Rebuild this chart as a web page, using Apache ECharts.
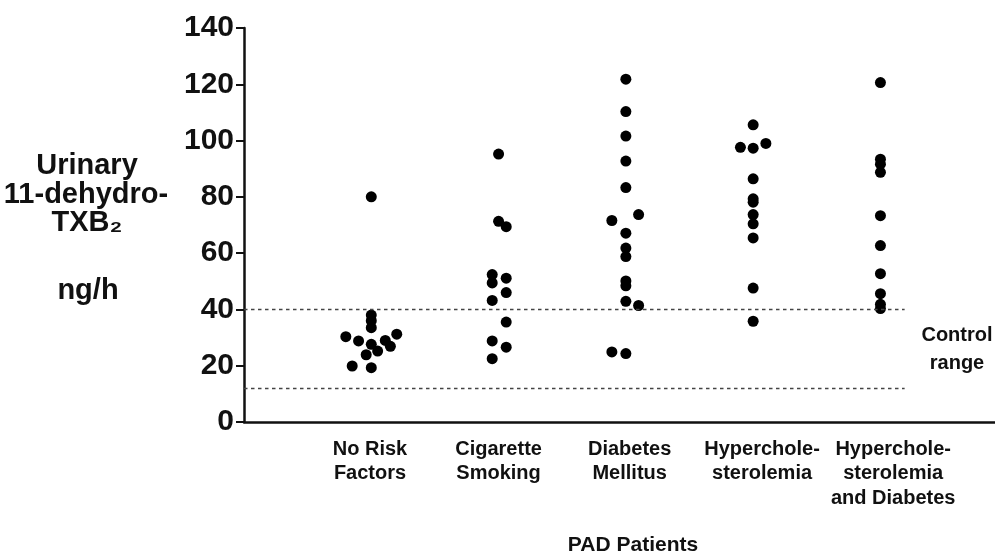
<!DOCTYPE html>
<html>
<head>
<meta charset="utf-8">
<script src="https://cdn.jsdelivr.net/npm/echarts@6/dist/echarts.min.js"></script>
<style>
  html, body { margin: 0; padding: 0; background: #fff; }
  #chart { width: 995px; height: 555px; }
</style>
</head>
<body>
<div id="chart"></div>
<script>
// ---- Data ----
const categories = [
  'No Risk\nFactors',
  'Cigarette\nSmoking',
  'Diabetes\nMellitus',
  'Hyperchole-\nsterolemia',
  'Hyperchole-\nsterolemia\nand Diabetes'
];
// label anchor along the x axis (group units)
const categoryLabelPos = [0.99, 2.0, 3.03, 4.07, 5.1];

// values (ng/h) and horizontal jitter (in group units) for each group
const noRiskValues    = [80, 38, 36, 33.5, 30.3, 28.8, 27.6, 29, 31.2, 26.9, 25.2, 23.9, 19.9, 19.3];
const noRiskJitter    = [0, 0, 0, 0, -0.2, -0.1, 0, 0.11, 0.2, 0.15, 0.05, -0.04, -0.15, 0];

const smokingValues   = [95.2, 71.3, 69.4, 52.4, 51.1, 49.4, 46, 43.2, 35.5, 28.8, 26.6, 22.5];
const smokingJitter   = [0, 0, 0.06, -0.05, 0.06, -0.05, 0.06, -0.05, 0.06, -0.05, 0.06, -0.05];

const diabetesValues  = [121.8, 110.3, 101.6, 92.7, 83.3, 71.6, 73.7, 67.1, 61.8, 58.8, 50.1, 48.4, 42.9, 41.4, 24.9, 24.3];
const diabetesJitter  = [0, 0, 0, 0, 0, -0.11, 0.1, 0, 0, 0, 0, 0, 0, 0.1, -0.11, 0];

const hyperValues     = [105.6, 97.6, 97.3, 99, 86.4, 79.3, 78.1, 73.7, 70.4, 65.4, 47.6, 35.8];
const hyperJitter     = [0, -0.1, 0, 0.1, 0, 0, 0, 0, 0, 0, 0, 0];

const hyperDiabValues = [120.6, 93.4, 91.6, 88.7, 73.3, 62.7, 52.7, 45.6, 41.8, 40.3];
const hyperDiabJitter = [0, 0, 0, 0, 0, 0, 0, 0, 0, 0];

const controlUpper = 40;
const controlLower = 12;
const yTicks = [0, 20, 40, 60, 80, 100, 120, 140];

const groups = [
  [noRiskValues, noRiskJitter],
  [smokingValues, smokingJitter],
  [diabetesValues, diabetesJitter],
  [hyperValues, hyperJitter],
  [hyperDiabValues, hyperDiabJitter]
];

const points = [];
groups.forEach(function (g, gi) {
  g[0].forEach(function (v, i) { points.push([gi + 1 + g[1][i], v]); });
});

const FONT = "'Liberation Sans', Arial, Helvetica, sans-serif";
const chart = echarts.init(document.getElementById('chart'), null, { renderer: 'canvas' });

const dash = { color: '#444', width: 1.4, type: [3.5, 3.5], opacity: 1 };

function t(x, y, text, size) {
  return { type: 'text', x: x, y: y, style: { text: text, font: 'bold ' + size + 'px ' + FONT, fill: '#111', align: 'center', verticalAlign: 'middle' } };
}

chart.setOption({
  animation: false,
  backgroundColor: '#ffffff',
  grid: { left: 244, right: 0, top: 28, bottom: 133, containLabel: false },
  xAxis: {
    type: 'value',
    min: 0,
    max: 5.9,
    splitLine: { show: false },
    axisLine: { show: true, lineStyle: { color: '#111', width: 2.5 } },
    axisTick: { show: false },
    axisLabel: {
      customValues: categoryLabelPos,
      margin: 15,
      fontFamily: FONT,
      fontWeight: 'bold',
      fontSize: 20,
      lineHeight: 24.5,
      color: '#111',
      formatter: function (val) {
        let best = 0, d = Infinity;
        categoryLabelPos.forEach(function (p, i) {
          if (Math.abs(p - val) < d) { d = Math.abs(p - val); best = i; }
        });
        return categories[best];
      }
    }
  },
  yAxis: {
    type: 'value',
    min: 0,
    max: 140,
    interval: 20,
    splitLine: { show: false },
    axisLine: { show: true, lineStyle: { color: '#111', width: 2.5 } },
    axisTick: { show: true, length: 8, lineStyle: { color: '#111', width: 2 } },
    axisLabel: {
      margin: 10,
      fontFamily: FONT,
      fontWeight: 'bold',
      fontSize: 30,
      color: '#111',
      formatter: function (v) { return yTicks.indexOf(v) >= 0 ? String(v) : ''; }
    }
  },
  graphic: [
    t(87, 166, 'Urinary', 29),
    t(86, 195, '11-dehydro-', 29),
    t(87, 223, 'TXB\u2082', 29),
    t(88, 291, 'ng/h', 29),
    t(957, 335, 'Control', 20),
    t(957, 363, 'range', 20),
    t(633, 545, 'PAD Patients', 21)
  ],
  series: [
    {
      type: 'scatter',
      data: points,
      symbol: 'circle',
      symbolSize: 11,
      itemStyle: { color: '#000', opacity: 1 },
      markLine: {
        silent: true,
        symbol: 'none',
        label: { show: false },
        lineStyle: dash,
        data: [
          [{ coord: [0, controlUpper] }, { coord: [5.19, controlUpper] }],
          [{ coord: [0, controlLower] }, { coord: [5.19, controlLower] }]
        ]
      }
    }
  ]
});
</script>
</body>
</html>
